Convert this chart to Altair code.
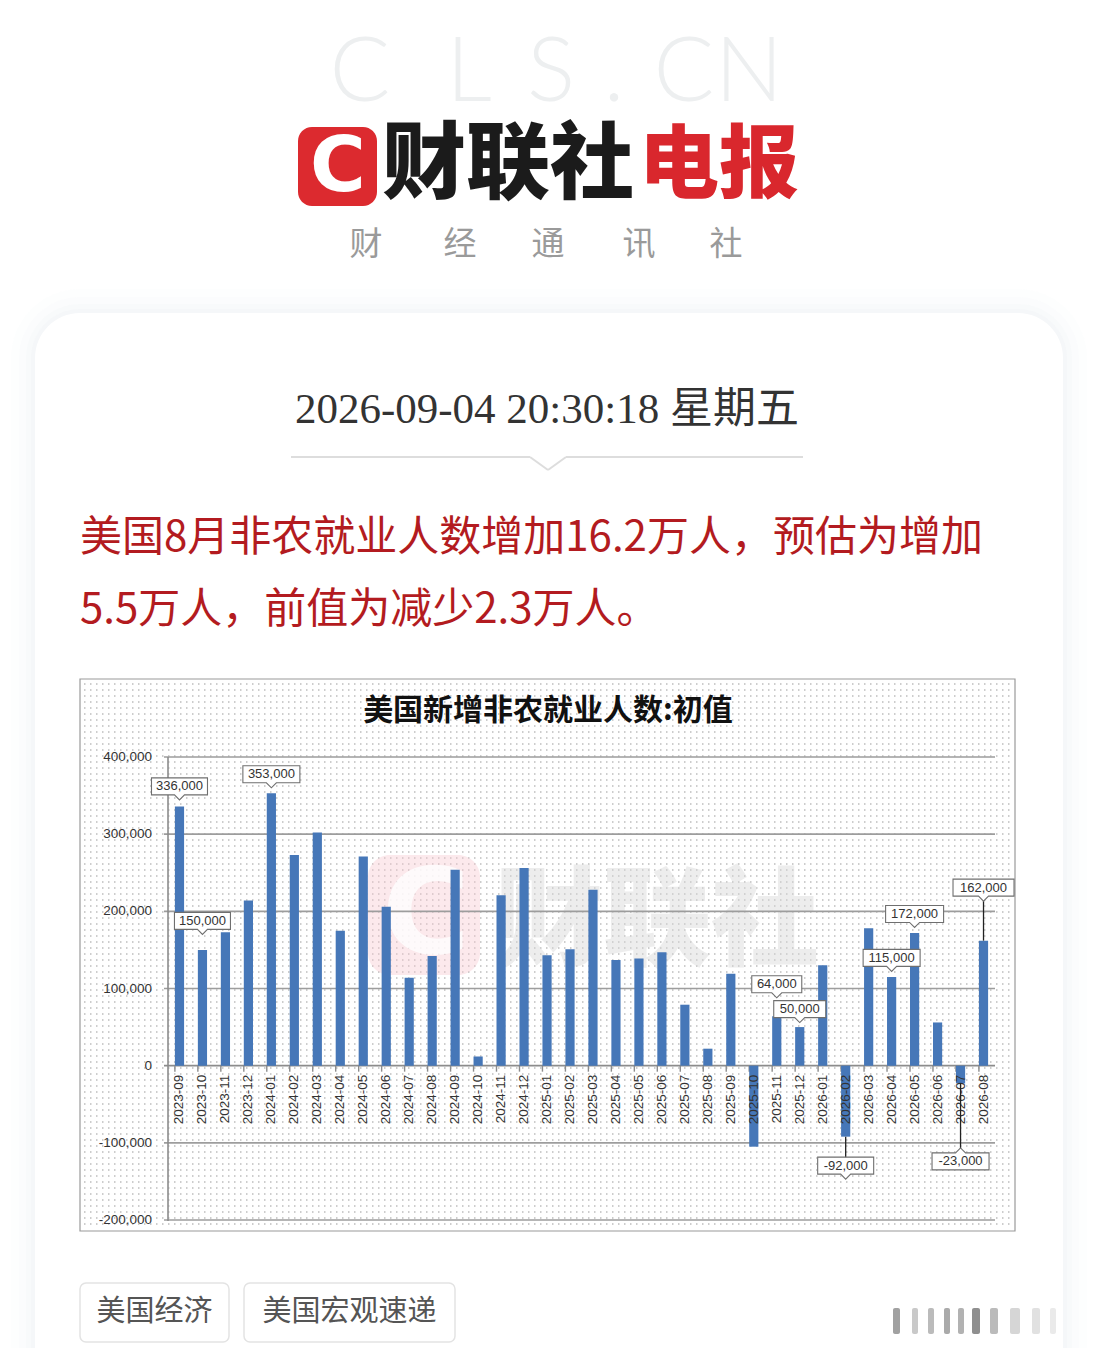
import altair as alt
import pandas as pd

# ---------------- data ----------------
months = ["2023-09", "2023-10", "2023-11", "2023-12", "2024-01", "2024-02", "2024-03",
          "2024-04", "2024-05", "2024-06", "2024-07", "2024-08", "2024-09", "2024-10",
          "2024-11", "2024-12", "2025-01", "2025-02", "2025-03", "2025-04", "2025-05",
          "2025-06", "2025-07", "2025-08", "2025-09", "2025-10", "2025-11", "2025-12",
          "2026-01", "2026-02", "2026-03", "2026-04", "2026-05", "2026-06", "2026-07",
          "2026-08"]
payrolls = [336000, 150000, 173000, 214000, 353000, 273000, 302000,
            175000, 271000, 206000, 114000, 142000, 254000, 12000,
            221000, 256000, 143000, 151000, 228000, 137000, 139000,
            147000, 79000, 22000, 119000, -105000, 64000, 50000,
            130000, -92000, 178000, 115000, 172000, 56000, -23000,
            162000]
y_ticks = [400000, 300000, 200000, 100000, 0, -100000, -200000]
y_tick_labels = ["400,000", "300,000", "200,000", "100,000", "0", "-100,000", "-200,000"]

callout_months = ["2023-09", "2023-10", "2024-01", "2025-11", "2025-12",
                  "2026-02", "2026-04", "2026-05", "2026-07", "2026-08"]
callout_dy = [-20, -29, -19, -32, -18, 29, -19, -19, 78, -53]
callout_w = [56, 56, 57, 50, 52, 56, 57, 58, 57, 61]
callout_ptr = ["down", "down", "down", "down", "down", "down", "down", "down", "up", "down"]
leader_len = {"2026-02": 21, "2026-07": 69, "2026-08": -40}

title_text = "美国新增非农就业人数:初值"
date_text = "2026-09-04 20:30:18 星期五"
headline_1 = "美国8月非农就业人数增加16.2万人，预估为增加"
headline_2 = "5.5万人，前值为减少2.3万人。"
tags = ["美国经济", "美国宏观速递"]

df = pd.DataFrame({"month": months, "value": payrolls})
df_ticks = pd.DataFrame({"v": y_ticks, "lab": y_tick_labels})

# ---------------- helpers ----------------
OFF = 8
one = alt.Data(values=[{"k": 0}])
CJK = "Noto Sans CJK SC"
LAT = "Liberation Sans"

def rect(x1, y1, x2, y2, **kw):
    return alt.Chart(one).mark_rect(**kw).encode(
        x=alt.value(x1 - OFF), x2=alt.value(x2 - OFF),
        y=alt.value(y1 - OFF), y2=alt.value(y2 - OFF))

def rule(x1, y1, x2, y2, **kw):
    return alt.Chart(one).mark_rule(**kw).encode(
        x=alt.value(x1 - OFF), x2=alt.value(x2 - OFF),
        y=alt.value(y1 - OFF), y2=alt.value(y2 - OFF))

def text(s, x, y, **kw):
    kw.setdefault("baseline", "middle")
    return alt.Chart(one).mark_text(text=s, **kw).encode(
        x=alt.value(x - OFF), y=alt.value(y - OFF))

xs = alt.Scale(domain=months, range=[168 - OFF, 995 - OFF], paddingInner=0.6, paddingOuter=0.3)
ys = alt.Scale(domain=[-200000, 400000], range=[1220 - OFF, 757 - OFF], nice=False, zero=False)
X = lambda **kw: alt.X("month:N", scale=xs, axis=None, sort=None, **kw)
Y = lambda f="value:Q": alt.Y(f, scale=ys, axis=None)

layers = []

# ---------------- page: shadow + card ----------------
for k, op in [(24, 0.05), (16, 0.06), (9, 0.08), (4, 0.10)]:
    layers.append(rect(35 - k, 313 - k, 1063 + k, 1420, fill="#dfe2e8", opacity=op,
                       cornerRadius=45 + k))
layers.append(rect(35, 313, 1063, 1420, fill="white", cornerRadius=45))

# ---------------- header ----------------
for ch, cx in zip(["C", "L", "S", ".", "C", "N"], [360, 469, 551, 614, 684, 749]):
    layers.append(text(ch, cx, 101, font="Lato", fontWeight=300, fontSize=90,
                       color="#edeff0", align="center", baseline="alphabetic"))
layers.append(rect(298, 127, 377, 206, fill="#dc2a2f", cornerRadius=14))
layers.append(text("C", 338, 168, font="DejaVu Sans", fontWeight="bold", fontSize=76,
                   color="white", align="center"))
layers.append(text("财联社", 508, 167, font=CJK, fontWeight=900, fontSize=84,
                   color="#1b1b1b", align="center"))
layers.append(text("电报", 719, 167, font=CJK, fontWeight=900, fontSize=80,
                   color="#d9272d", align="center"))
for ch, cx in zip(list("财经通讯社"), [366, 460, 548, 639, 726]):
    layers.append(text(ch, cx, 245, font=CJK, fontSize=33, color="#9a9a9a", align="center"))

# ---------------- date + separator ----------------
layers.append(text(date_text, 547, 410, font="Liberation Serif, 'Noto Sans CJK SC'",
                   fontSize=43, color="#333333", align="center"))
layers.append(rule(291, 457, 530, 457, stroke="#dddddd", strokeWidth=2))
layers.append(rule(530, 457, 548, 470, stroke="#dddddd", strokeWidth=2))
layers.append(rule(548, 470, 566, 457, stroke="#dddddd", strokeWidth=2))
layers.append(rule(566, 457, 803, 457, stroke="#dddddd", strokeWidth=2))

# ---------------- headline ----------------
layers.append(text(headline_1, 80, 538, font=CJK, fontWeight=400, fontSize=42,
                   color="#b31b20", align="left"))
layers.append(text(headline_2, 80, 610, font=CJK, fontWeight=400, fontSize=42,
                   color="#b31b20", align="left"))

# ---------------- chart frame + dotted texture ----------------
layers.append(rect(80, 679, 1015, 1231, fill="white", stroke="#9a9a9a", strokeWidth=1.2))
dots = alt.Chart(alt.sequence(0, 91, as_="i")).transform_calculate(
    py=f"{684 - OFF} + 6 * datum.i"
).mark_rule(stroke="#bdbdbd", strokeWidth=1.5, strokeDash=[1.5, 4.5]).encode(
    y=alt.Y("py:Q", scale=None, axis=None),
    x=alt.value(84 - OFF), x2=alt.value(1012 - OFF))
layers.append(dots)

# watermark
layers.append(rect(368, 855, 480, 975, fill="#f7c9d0", opacity=0.4, cornerRadius=22))
layers.append(text("C", 426, 917, font="DejaVu Sans", fontWeight="bold", fontSize=120,
                   color="white", opacity=0.8, align="center"))
layers.append(text("财联社", 657, 925, font=CJK, fontWeight=900, fontSize=108,
                   color="#d8d8d8", opacity=0.45, align="center"))

# title
layers.append(text(title_text, 548, 711, font=CJK, fontWeight="bold", fontSize=30,
                   color="#111111", align="center"))

# ---------------- axes / grid ----------------
grid = alt.Chart(df_ticks).transform_filter("datum.v != 0").mark_rule(
    stroke="#9d9d9d", strokeWidth=1.6).encode(
    y=Y("v:Q"), x=alt.value(164 - OFF), x2=alt.value(995 - OFF))
layers.append(grid)
layers.append(rule(168, 757, 168, 1221, stroke="#8c8c8c", strokeWidth=1.6))
zero = alt.Chart(df_ticks).transform_filter("datum.v == 0").mark_rule(
    stroke="#8c8c8c", strokeWidth=1.6).encode(
    y=Y("v:Q"), x=alt.value(164 - OFF), x2=alt.value(995 - OFF))
layers.append(zero)
ylab = alt.Chart(df_ticks).mark_text(font=LAT, fontSize=13.5, color="#333333",
                                     align="right", baseline="middle").encode(
    y=Y("v:Q"), x=alt.value(152 - OFF), text="lab:N")
layers.append(ylab)
xticks = alt.Chart(df).transform_calculate(z="0").mark_rule(
    stroke="#8c8c8c", strokeWidth=1.4, y2Offset=6).encode(
    x=X(bandPosition=0), y=Y("z:Q"), y2="z:Q")
layers.append(xticks)

# ---------------- bars ----------------
bars = alt.Chart(df).mark_bar(color="#4677b8").encode(
    x=X(), y=Y(), y2=alt.datum(0))
layers.append(bars)

# x labels (inside plot, below zero line)
xlab = alt.Chart(df).transform_calculate(z="0").mark_text(
    font=LAT, fontSize=13.5, color="#333333", angle=270, align="right",
    baseline="middle", dx=-9).encode(
    x=X(), y=Y("z:Q"), text="month:N")
layers.append(xlab)

# ---------------- callouts ----------------
def box_path(w, h, pointer):
    r = 50.0
    hw, hh, p = w / 2 / r, h / 2 / r, 5 / r
    if pointer == "down":
        pts = [(-hw, -hh), (hw, -hh), (hw, hh), (p, hh), (0, hh + p), (-p, hh), (-hw, hh)]
    else:
        pts = [(-hw, hh), (-hw, -hh), (-p, -hh), (0, -hh - p), (p, -hh), (hw, -hh), (hw, hh)]
    return "M" + "L".join(f"{a:.4f},{b:.4f}" for a, b in pts) + "Z"

for m, dy, w, ptr in zip(callout_months, callout_dy, callout_w, callout_ptr):
    base = alt.Chart(df).transform_filter(f"datum.month == '{m}'").transform_calculate(
        lab="replace(format(datum.value, ','), '\u2212', '-')")
    if m in leader_len:
        layers.append(base.mark_rule(stroke="#222222", strokeWidth=1.3,
                                     y2Offset=leader_len[m]).encode(
            x=X(), y=Y(), y2="value:Q"))
    layers.append(base.mark_point(shape=box_path(w, 17, ptr), size=10000, filled=True,
                                  fill="white", stroke="#6f6f6f", strokeWidth=1.1,
                                  opacity=1, yOffset=dy).encode(x=X(), y=Y()))
    layers.append(base.mark_text(font=LAT, fontSize=13, color="#333333",
                                 baseline="middle", align="center", dy=dy).encode(
        x=X(), y=Y(), text="lab:N"))

# ---------------- tags ----------------
for label, x1, x2 in zip(tags, [80, 244], [229, 455]):
    layers.append(rect(x1, 1283, x2, 1342, fill="white", stroke="#e3e3e3",
                       strokeWidth=1.5, cornerRadius=6))
    layers.append(text(label, (x1 + x2) / 2, 1312, font=CJK, fontSize=29,
                       color="#555555", align="center"))

# blurred share icon (bottom right)
for x1, x2, col, op in [(893, 900, "#444444", 0.5), (912, 918, "#888888", 0.45),
                        (928, 934, "#777777", 0.5), (944, 950, "#555555", 0.5),
                        (958, 964, "#666666", 0.5), (972, 980, "#333333", 0.55),
                        (990, 998, "#777777", 0.5), (1010, 1020, "#999999", 0.4),
                        (1032, 1040, "#aaaaaa", 0.35), (1050, 1056, "#bbbbbb", 0.3)]:
    layers.append(rect(x1, 1308, x2, 1334, fill=col, opacity=op, cornerRadius=2))

chart = alt.layer(*layers).properties(
    width=1082, height=1340, padding=0,
    autosize=alt.AutoSizeParams(type="none")
).configure(background="white").configure_view(stroke=None)

chart.save("out.html", embed_options={"renderer": "svg", "actions": False})
